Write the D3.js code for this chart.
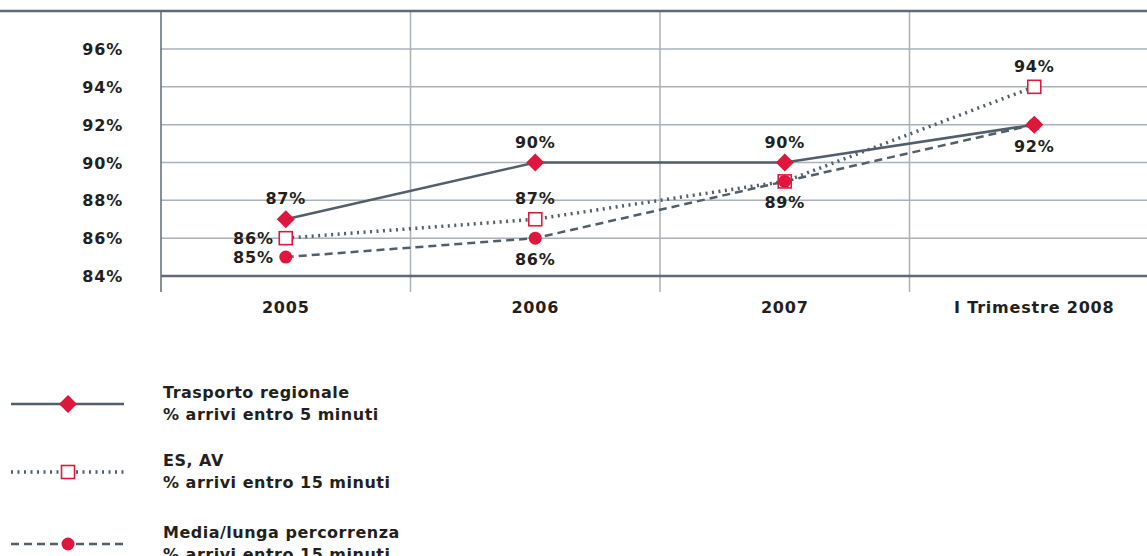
<!DOCTYPE html>
<html>
<head>
<meta charset="utf-8">
<script src="https://cdn.jsdelivr.net/npm/d3@7"></script>
<style>
  body { margin: 0; background: #fff; }
  text { font-family: "DejaVu Sans", sans-serif; font-weight: bold; fill: #231f20; }
</style>
</head>
<body>
<script>
let categories = ["2005", "2006", "2007", "I Trimestre 2008"];
let yTicks = [84, 86, 88, 90, 92, 94, 96];

let regionale = [87, 90, 90, 92];
let esAv = [86, 87, 89, 94];
let mediaLunga = [85, 86, 89, 92];

// where each value label sits (null = no label, overlapping point)
let regionaleLabels = ["above", "above", "above", null];
let esAvLabels = ["left", "above", "below", "above"];
let mediaLungaLabels = ["left", "below", null, "below"];

let series = [
  { name: "Trasporto regionale", sub: "% arrivi entro 5 minuti", values: regionale, labels: regionaleLabels, marker: "diamond", dash: null, width: 2.5 },
  { name: "ES, AV", sub: "% arrivi entro 15 minuti", values: esAv, labels: esAvLabels, marker: "square", dash: "2,4.5", width: 3.5 },
  { name: "Media/lunga percorrenza", sub: "% arrivi entro 15 minuti", values: mediaLunga, labels: mediaLungaLabels, marker: "circle", dash: "8,5", width: 2.5 }
];

let width = 1147, height = 556;
let plotLeft = 161, plotTop = 11, plotBottom = 276;
let red = "#e0173d", lineCol = "#525e69", gridCol = "#a9b1b9", axisCol = "#5f6a75";

let svg = d3.select("body").append("svg")
  .attr("width", width)
  .attr("height", height);

let x = d3.scaleBand().domain(categories).range([plotLeft, plotLeft + 4 * 249.5]);
let y = d3.scaleLinear().domain([84, 96]).range([plotBottom, 49]);

// grid
svg.append("g").selectAll("line").data(yTicks.slice(1)).enter().append("line")
  .attr("x1", plotLeft).attr("x2", width)
  .attr("y1", d => y(d)).attr("y2", d => y(d))
  .attr("stroke", gridCol).attr("stroke-width", 1.5);

svg.append("g").selectAll("line").data(categories.slice(1)).enter().append("line")
  .attr("x1", d => x(d)).attr("x2", d => x(d))
  .attr("y1", plotTop).attr("y2", 292)
  .attr("stroke", gridCol).attr("stroke-width", 1.5);

svg.append("line").attr("x1", plotLeft).attr("x2", plotLeft).attr("y1", plotTop).attr("y2", 292)
  .attr("stroke", axisCol).attr("stroke-width", 1.5);
svg.append("line").attr("x1", 0).attr("x2", width).attr("y1", plotTop).attr("y2", plotTop)
  .attr("stroke", axisCol).attr("stroke-width", 2.5);
svg.append("line").attr("x1", plotLeft).attr("x2", width).attr("y1", plotBottom).attr("y2", plotBottom)
  .attr("stroke", axisCol).attr("stroke-width", 2.5);

// axis labels
svg.append("g").selectAll("text").data(yTicks).enter().append("text")
  .attr("x", 123).attr("y", d => y(d) + 6)
  .attr("text-anchor", "end")
  .attr("font-size", 16).attr("letter-spacing", 0.8)
  .text(d => d + "%");

svg.append("g").selectAll("text").data(categories).enter().append("text")
  .attr("x", d => x(d) + x.bandwidth() / 2).attr("y", 313)
  .attr("text-anchor", "middle")
  .attr("font-size", 16).attr("letter-spacing", 0.8)
  .text(d => d);

let cx = (d, i) => x(categories[i]) + x.bandwidth() / 2;

function drawMarker(g, type, px, py) {
  if (type == "diamond") {
    g.append("path").attr("d", `M${px},${py - 9}L${px + 9},${py}L${px},${py + 9}L${px - 9},${py}Z`)
      .attr("fill", red);
  } else if (type == "square") {
    g.append("rect").attr("x", px - 6.5).attr("y", py - 6.5).attr("width", 13).attr("height", 13)
      .attr("fill", "#fff").attr("stroke", red).attr("stroke-width", 1.6);
  } else {
    g.append("circle").attr("cx", px).attr("cy", py).attr("r", 6.5).attr("fill", red);
  }
}

let line = d3.line().x(cx).y(d => y(d));

// lines first, then markers
series.forEach(s => {
  svg.append("path").datum(s.values)
    .attr("d", line)
    .attr("fill", "none")
    .attr("stroke", lineCol)
    .attr("stroke-width", s.width)
    .attr("stroke-dasharray", s.dash);
});

let mg = svg.append("g");
[series[1], series[0], series[2]].forEach(s => {
  s.values.forEach((v, i) => drawMarker(mg, s.marker, cx(v, i), y(v)));
});

series.forEach(s => {
  s.values.forEach((v, i) => {
    let pos = s.labels[i];
    if (!pos) return;
    let px = cx(v, i), py = y(v);
    let t = svg.append("text").attr("font-size", 16).attr("letter-spacing", 0.8).text(v + "%");
    if (pos == "above") t.attr("x", px).attr("y", py - 15).attr("text-anchor", "middle");
    else if (pos == "below") t.attr("x", px).attr("y", py + 27).attr("text-anchor", "middle");
    else t.attr("x", px - 12).attr("y", py + 6).attr("text-anchor", "end");
  });
});

// legend
let legendY = [404, 472, 544];
series.forEach((s, i) => {
  let g = svg.append("g").attr("transform", `translate(0, ${legendY[i]})`);
  g.append("line").attr("x1", 11).attr("x2", 124).attr("y1", 0).attr("y2", 0)
    .attr("stroke", lineCol).attr("stroke-width", s.width)
    .attr("stroke-dasharray", s.dash);
  drawMarker(g, s.marker, 68, 0);
  g.append("text").attr("x", 163).attr("y", -6)
    .attr("font-size", 16).attr("letter-spacing", 0.5).text(s.name);
  g.append("text").attr("x", 163).attr("y", 16)
    .attr("font-size", 16).attr("letter-spacing", 0.5).text(s.sub);
});
</script>
</body>
</html>
